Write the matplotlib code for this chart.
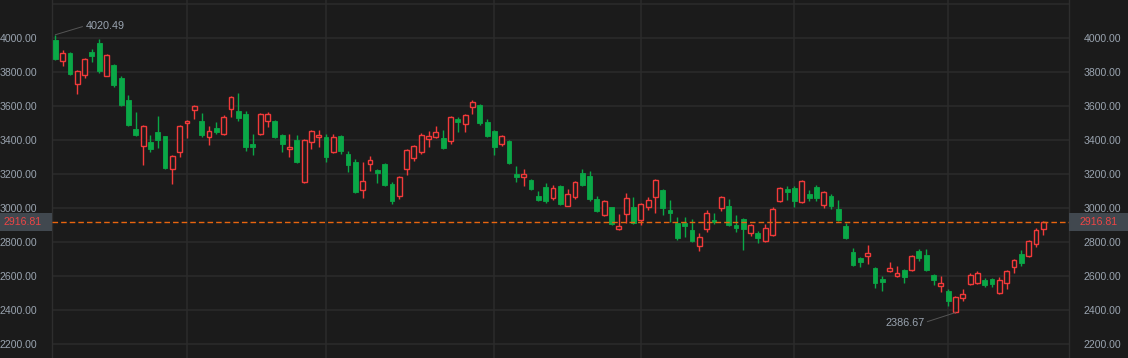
import matplotlib
matplotlib.use("Agg")
import matplotlib.pyplot as plt
import matplotlib.transforms as mtransforms
from matplotlib.patches import Rectangle
import numpy as np

plt.rcParams['font.family'] = ['Liberation Sans', 'DejaVu Sans']

# ---------------- data ----------------
opens = [3990, 3869, 3914, 3733, 3786, 3920, 3973, 3780, 3843, 3767,
         3637, 3467, 3365, 3388, 3449, 3425, 3233, 3329, 3500, 3576,
         3514, 3418, 3473, 3439, 3586, 3573, 3555, 3378, 3439, 3512,
         3514, 3431, 3347, 3402, 3157, 3388, 3418, 3420, 3333, 3425,
         3320, 3273, 3110, 3259, 3225, 3261, 3143, 3074, 3233, 3298,
         3333, 3410, 3420, 3414, 3398, 3525, 3498, 3598, 3608, 3508,
         3455, 3380, 3396, 3202, 3186, 3167, 3073, 3125, 3061, 3131,
         3016, 3069, 3208, 3190, 3055, 2963, 3008, 2880, 2969, 3008,
         2933, 3010, 3069, 3108, 2990, 2916, 2916, 2873, 2778, 2880,
         2931, 3004, 3014, 2902, 2937, 2857, 2855, 2808, 2843, 3043,
         3114, 3120, 3037, 3084, 3125, 3020, 3073, 2996, 2896, 2743,
         2708, 2722, 2649, 2584, 2633, 2602, 2637, 2637, 2749, 2725,
         2608, 2543, 2514, 2390, 2474, 2555, 2561, 2578, 2584, 2502,
         2561, 2655, 2731, 2720, 2790, 2878]
highs = [4020.49, 3931, 3920, 3814, 3884, 3937, 3996, 3908, 3849, 3778,
         3667, 3567, 3488, 3431, 3543, 3425, 3314, 3488, 3518, 3606,
         3561, 3484, 3508, 3549, 3661, 3678, 3573, 3437, 3561, 3567,
         3520, 3437, 3437, 3431, 3406, 3461, 3461, 3437, 3437, 3431,
         3337, 3290, 3273, 3308, 3231, 3267, 3155, 3190, 3349, 3373,
         3443, 3455, 3484, 3461, 3543, 3537, 3555, 3637, 3614, 3525,
         3461, 3431, 3402, 3249, 3231, 3173, 3102, 3149, 3137, 3137,
         3114, 3161, 3231, 3220, 3073, 3049, 3008, 2967, 3090, 3067,
         3031, 3067, 3173, 3114, 3049, 2949, 2949, 2937, 2855, 2990,
         2973, 3073, 3055, 2961, 2943, 2908, 2867, 2908, 3008, 3125,
         3131, 3131, 3167, 3108, 3137, 3102, 3084, 3049, 2914, 2767,
         2714, 2784, 2655, 2602, 2684, 2661, 2643, 2725, 2761, 2761,
         2614, 2602, 2525, 2484, 2525, 2620, 2631, 2590, 2590, 2596,
         2637, 2702, 2755, 2814, 2884, 2925]
lows = [3873, 3839, 3784, 3673, 3767, 3861, 3796, 3780, 3714, 3602,
        3484, 3425, 3255, 3331, 3357, 3231, 3145, 3304, 3416, 3527,
        3420, 3374, 3437, 3431, 3537, 3516, 3339, 3316, 3431, 3480,
        3414, 3333, 3304, 3267, 3151, 3351, 3363, 3274, 3327, 3322,
        3216, 3090, 3063, 3222, 3151, 3131, 3025, 3055, 3196, 3278,
        3320, 3361, 3414, 3351, 3380, 3451, 3451, 3557, 3490, 3420,
        3316, 3369, 3261, 3155, 3131, 3108, 3043, 3031, 3049, 3018,
        3016, 3057, 3131, 3043, 2978, 2957, 2904, 2874, 2916, 2910,
        2904, 2992, 2975, 2961, 2922, 2816, 2831, 2802, 2749, 2863,
        2908, 2986, 2896, 2861, 2755, 2837, 2796, 2802, 2837, 3037,
        3049, 3008, 3031, 3043, 3043, 3002, 2996, 2925, 2819, 2661,
        2655, 2672, 2531, 2512, 2627, 2596, 2561, 2631, 2690, 2631,
        2549, 2508, 2425, 2386.67, 2455, 2549, 2555, 2537, 2537, 2496,
        2525, 2620, 2661, 2714, 2773, 2843]
closes = [3878, 3912, 3790, 3808, 3878, 3898, 3806, 3900, 3724, 3606,
          3490, 3431, 3482, 3351, 3404, 3239, 3308, 3482, 3512, 3600,
          3431, 3453, 3451, 3537, 3655, 3533, 3363, 3363, 3555, 3555,
          3420, 3380, 3361, 3273, 3400, 3453, 3431, 3304, 3420, 3339,
          3257, 3096, 3159, 3284, 3210, 3137, 3043, 3184, 3343, 3367,
          3431, 3425, 3447, 3357, 3537, 3510, 3549, 3624, 3502, 3425,
          3363, 3425, 3267, 3184, 3202, 3114, 3049, 3043, 3120, 3025,
          3084, 3155, 3137, 3055, 2984, 3043, 2910, 2894, 3061, 2914,
          3025, 3049, 3167, 3002, 2973, 2825, 2896, 2808, 2829, 2973,
          2918, 3067, 2902, 2884, 2878, 2902, 2825, 2884, 2996, 3120,
          3096, 3043, 3161, 3061, 3061, 3096, 3014, 2931, 2825, 2667,
          2684, 2737, 2561, 2567, 2649, 2618, 2596, 2720, 2708, 2637,
          2578, 2561, 2455, 2478, 2496, 2608, 2620, 2549, 2555, 2578,
          2631, 2696, 2678, 2808, 2873, 2916.81]
month_start_idx = [18, 37, 60, 80, 101, 122]
y_ticks = [2200, 2400, 2600, 2800, 3000, 3200, 3400, 3600, 3800, 4000]
y_grid_extra = [4200]
last_price = 2916.81
max_label = "4020.49"
min_label = "2386.67"

# ---------------- style ----------------
BG = "#1b1b1b"
GRID = "#2b2b2b"
UP = "#f23a3a"
DOWN = "#0aa847"
LABEL = "#9aa4b0"
FS = 7.6
W, H = 1128, 358

fig = plt.figure(figsize=(W / 100, H / 100), dpi=100, facecolor=BG)
ax = fig.add_axes([52 / W, 0, (1069 - 52) / W, 1])
ax.set_facecolor(BG)

n = len(closes)
y_lo, y_hi = 2119.5, 4225.0
ax.set_ylim(y_lo, y_hi)
ax.set_xlim(-0.45, n - 1 + 3.51)

# grid
for t in y_ticks + y_grid_extra:
    ax.axhline(t, color=GRID, lw=1.1, zorder=0)
for m in month_start_idx:
    ax.axvline(m, color=GRID, lw=1.1, zorder=0)

bw = 0.66
for i in range(n):
    o, h, l, c = opens[i], highs[i], lows[i], closes[i]
    up = c >= o
    col = UP if up else DOWN
    top, bot = max(o, c), min(o, c)
    ax.vlines(i, top, h, color=col, lw=1.0, zorder=2)
    ax.vlines(i, l, bot, color=col, lw=1.0, zorder=2)
    if up:
        ax.add_patch(Rectangle((i - bw / 2, bot), bw, max(top - bot, 1.5),
                               facecolor=BG, edgecolor=col, lw=1.0, zorder=3))
    else:
        ax.add_patch(Rectangle((i - bw / 2, bot), bw, max(top - bot, 1.5),
                               facecolor=col, edgecolor=col, lw=0.6, zorder=3))

# last price dashed line
ax.axhline(last_price, color="#e8650f", lw=1.0, dashes=(4, 2.2), zorder=4)

# ticks
ax.set_yticks(y_ticks)
ax.set_yticklabels([f"{t:.2f}" for t in y_ticks])
ax.set_xticks([])
ax.tick_params(axis="y", which="both", left=False, right=False,
               labelleft=True, labelright=True, pad=7.2,
               labelcolor=LABEL, labelsize=FS)
for sp in ["top", "bottom"]:
    ax.spines[sp].set_visible(False)
for sp in ["left", "right"]:
    ax.spines[sp].set_color("#2e2e2e")
    ax.spines[sp].set_linewidth(1.0)

# price boxes
px = (y_hi - y_lo) / H
bh = 18 * px
trL = mtransforms.blended_transform_factory(fig.transFigure, ax.transData)
fig.patches.append(Rectangle((0, last_price - bh / 2), 52 / W, bh, transform=trL,
                             facecolor="#41484f", edgecolor="none", zorder=5))
fig.patches.append(Rectangle((1069 / W, last_price - bh / 2), (W - 1069) / W, bh,
                             transform=trL, facecolor="#41484f", edgecolor="none", zorder=5))
fig.text(42 / W, last_price, f"{last_price:.2f}", transform=trL, ha="right",
         va="center", color="#ef4545", fontsize=FS, zorder=6)
fig.text(1079 / W, last_price, f"{last_price:.2f}", transform=trL, ha="left",
         va="center", color="#ef4545", fontsize=FS, zorder=6)

# max / min annotations
imax = int(np.argmax(highs))
imin = int(np.argmin(lows))
ax.annotate(max_label, xy=(imax, highs[imax]), xytext=(30, 9), textcoords="offset pixels",
            color=LABEL, fontsize=FS + 0.2, ha="left", va="center",
            arrowprops=dict(arrowstyle="-", color="#555555", lw=0.7, shrinkA=0, shrinkB=0,
                            relpos=(0, 0.5)))
ax.annotate(min_label, xy=(imin, lows[imin]), xytext=(-31, -10), textcoords="offset pixels",
            color=LABEL, fontsize=FS + 0.2, ha="right", va="center",
            arrowprops=dict(arrowstyle="-", color="#555555", lw=0.7, shrinkA=0, shrinkB=0,
                            relpos=(1, 0.5)))

fig.savefig("out.png", dpi=100, facecolor=BG)
